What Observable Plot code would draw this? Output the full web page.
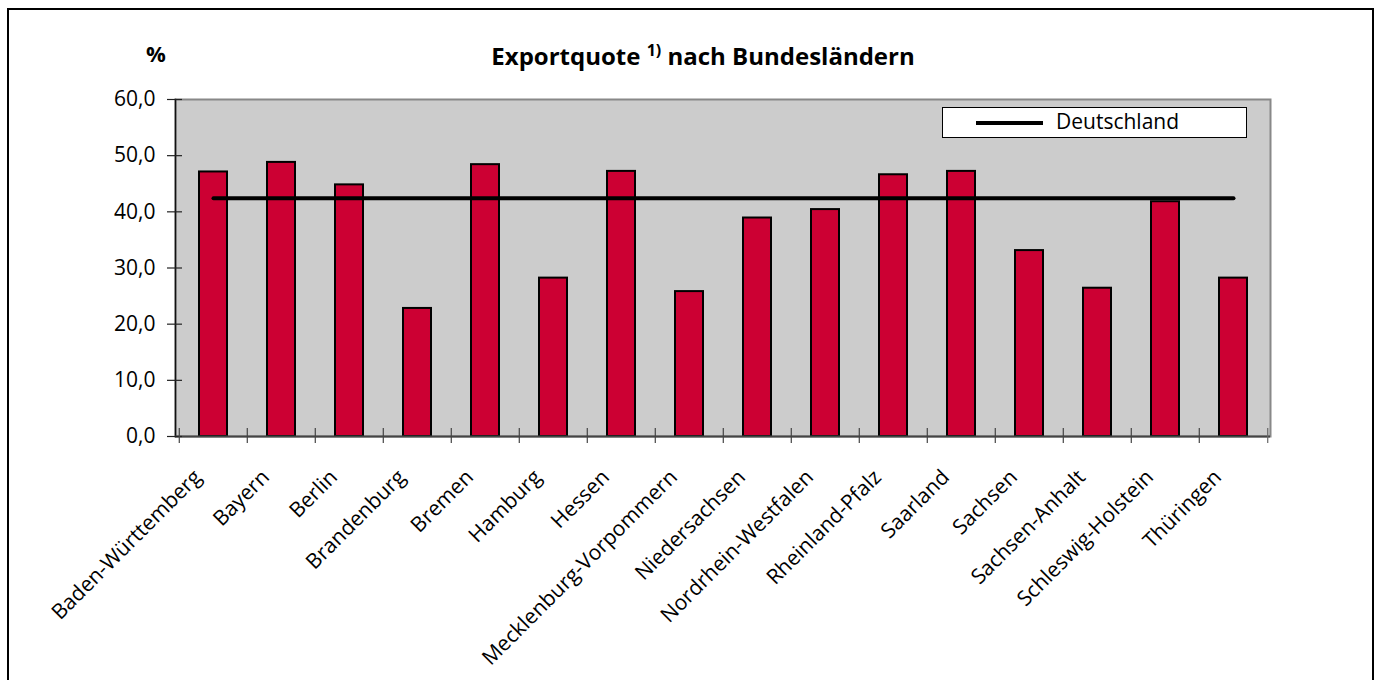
<!DOCTYPE html>
<html>
<head>
<meta charset="utf-8">
<script src="https://cdn.jsdelivr.net/npm/d3@7"></script>
<script src="https://cdn.jsdelivr.net/npm/@observablehq/plot@0.6"></script>
<style>
  html, body { margin: 0; padding: 0; background: #fff; overflow: hidden; }
  #wrap { position: relative; width: 1380px; height: 680px; overflow: hidden; font-family: "Open Sans", sans-serif; }
  #border { position: absolute; left: 7px; top: 8px; width: 1367px; height: 720px; box-sizing: border-box; border: 2px solid #000; }
  #title { position: absolute; left: 0; width: 1406px; top: 39px; text-align: center; font-weight: bold; font-size: 24px; color: #000; }
  #title sup { font-size: 16px; }
  #unit { position: absolute; left: 146px; top: 38px; font-weight: bold; font-size: 22px; }
  #legend { position: absolute; left: 942px; top: 107px; width: 305px; height: 31px; box-sizing: border-box; border: 1.5px solid #000; background: #fff; }
  #legend .sw { position: absolute; left: 33px; top: 12.5px; width: 67px; height: 4px; background: #000; }
  #legend .lb { position: absolute; left: 113px; top: -1px; font-size: 21px; }
  svg { position: absolute; left: 0; top: 0; }
</style>
</head>
<body>
<div id="wrap">
  <div id="chart"></div>
  <div id="border"></div>
  <div id="unit">%</div>
  <div id="title">Exportquote <sup>1)</sup> nach Bundesländern</div>
  <div id="legend"><div class="sw"></div><div class="lb">Deutschland</div></div>
</div>
<script>
const states = ["Baden-Württemberg","Bayern","Berlin","Brandenburg","Bremen","Hamburg","Hessen","Mecklenburg-Vorpommern","Niedersachsen","Nordrhein-Westfalen","Rheinland-Pfalz","Saarland","Sachsen","Sachsen-Anhalt","Schleswig-Holstein","Thüringen"];
const exportquote = [47.1, 48.8, 44.8, 22.8, 48.4, 28.2, 47.2, 25.8, 38.9, 40.4, 46.6, 47.2, 33.1, 26.4, 41.8, 28.2];
const deutschland = 42.4;
const yTicks = [0, 10, 20, 30, 40, 50, 60];

const W = 1380, H = 680, mL = 175, mR = 110, mT = 99, mB = 244;
const frameW = W - mL - mR;
const step = frameW / states.length;
const data = states.map((s, i) => ({state: s, value: exportquote[i]}));
const fmt = d => d.toFixed(1).replace(".", ",");

const chart = Plot.plot({
  width: W, height: H,
  marginLeft: mL, marginRight: mR, marginTop: mT, marginBottom: mB,
  style: {fontFamily: "Open Sans, sans-serif", fontSize: "21px", color: "#000", background: "transparent"},
  x: {type: "band", domain: states, paddingInner: 0.595, paddingOuter: 0.2975, axis: null},
  y: {domain: [0, 60], axis: null},
  marks: [
    Plot.frame({fill: "#cccccc", stroke: "#888", strokeWidth: 2}),
    Plot.barY(data, {x: "state", y: "value", fill: "#cc0033", stroke: "#000", strokeWidth: 2}),
    Plot.lineY(data, {x: "state", y: () => deutschland, stroke: "#000", strokeWidth: 4, strokeLinecap: "round"}),
    Plot.frame({anchor: "left", stroke: "#111", strokeWidth: 1.5}),
    Plot.ruleY([0], {stroke: "#444", strokeWidth: 2}),
    Plot.ruleY(yTicks, {y: d => d, stroke: "#222", strokeWidth: 1.2, insetLeft: -8, insetRight: frameW - 7}),
    Plot.ruleX(states, {x: d => d, dx: -step / 2, y1: 0, y2: 0, insetTop: -8, insetBottom: -7, stroke: "#444", strokeWidth: 1.2}),
    Plot.ruleX([states[states.length - 1]], {x: d => d, dx: step / 2, y1: 0, y2: 0, insetTop: -8, insetBottom: -7, stroke: "#666", strokeWidth: 1.2}),
    Plot.text(yTicks, {y: d => d, text: fmt, frameAnchor: "left", textAnchor: "end", dx: -20, fill: "#000", fontSize: 21}),
    Plot.text(states, {x: d => d, text: d => d, frameAnchor: "bottom", rotate: -45, textAnchor: "end", lineAnchor: "bottom", dx: -11, dy: 42, fill: "#000", fontSize: 21})
  ]
});
document.getElementById("chart").appendChild(chart);
</script>
</body>
</html>
